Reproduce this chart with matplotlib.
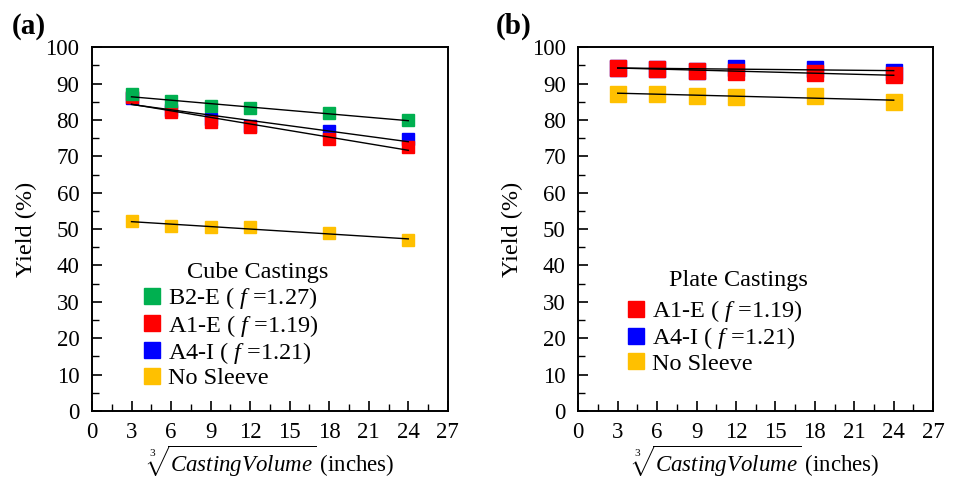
import numpy as np
import matplotlib
matplotlib.use("Agg")
import matplotlib.pyplot as plt
from matplotlib.ticker import MultipleLocator
from matplotlib.lines import Line2D

plt.rcParams['font.family'] = 'Liberation Serif'
plt.rcParams['mathtext.fontset'] = 'custom'
plt.rcParams['mathtext.rm'] = 'Liberation Serif'
plt.rcParams['mathtext.it'] = 'Liberation Serif:italic'

## DATA
size = [3, 6, 9, 12, 18, 24]            # cube root of casting volume (inches)

# cube castings
cube_b2e = [87.2, 85.3, 83.7, 83.2, 81.8, 80.1]
cube_a1e = [86.2, 82.1, 79.3, 78.2, 74.9, 72.7]
cube_a4i = [86.0, 82.6, 80.3, 78.3, 77.1, 74.9]
cube_none = [52.3, 50.8, 50.5, 50.5, 49.0, 47.0]

# plate castings
plate_a1e = [94.4, 94.1, 93.5, 93.3, 92.8, 92.4]
plate_a4i = [94.4, 94.1, 93.5, 94.4, 94.1, 93.3]
plate_none = [87.2, 87.2, 86.7, 86.4, 86.7, 85.0]

GREEN = '#00B050'
RED = '#FF0000'
BLUE = '#0000FF'
YELLOW = '#FFC000'

LBL_B2E = r'B2-E ( $f$ =1.27)'
LBL_A1E = r'A1-E ( $f$ =1.19)'
LBL_A4I = r'A4-I ( $f$ =1.21)'
LBL_NONE = 'No Sleeve'

FS_TICK = 16.5
FS = 17.5


def fit_line(ax, x, y):
    """Least squares trend line from first to last point."""
    k, b = np.polyfit(x, y, 1)
    xs = np.array([x[0], x[-1]])
    ax.plot(xs, k * xs + b, color='black', lw=1.0, zorder=5)


def style_axes(ax):
    ax.set_xlim(0, 27)
    ax.set_ylim(0, 100)
    ax.xaxis.set_major_locator(MultipleLocator(3))
    ax.xaxis.set_minor_locator(MultipleLocator(1.5))
    ax.yaxis.set_major_locator(MultipleLocator(10))
    ax.yaxis.set_minor_locator(MultipleLocator(5))
    ax.tick_params(which='both', direction='in', top=False, right=False, labelsize=FS_TICK)
    ax.tick_params(which='major', length=7, width=1.2, pad=9)
    ax.tick_params(axis='x', which='major', pad=8)
    ax.tick_params(which='minor', length=5, width=1.0)
    for s in ax.spines.values():
        s.set_linewidth(1.4)
    ax.set_ylabel('Yield (%)', fontsize=FS, labelpad=6)
    ax.set_xlabel(r'$\sqrt[3]{\mathit{CastingVolume}}$' + ' (inches)', fontsize=16.5, labelpad=0)


def handle(c, ms):
    return Line2D([], [], marker='s', ls='none', color=c, markersize=ms)


def add_legend(ax, handles, labels, title, x, y, tx, ty):
    ax.legend(handles, labels, loc='upper left', bbox_to_anchor=(x, y),
              frameon=False, fontsize=FS, handlelength=0.7, handletextpad=0.3,
              labelspacing=0.05, borderaxespad=0, borderpad=0)
    ax.text(tx, ty, title, transform=ax.transAxes, fontsize=FS,
            ha='center', va='center')


fig = plt.figure(figsize=(9.67, 4.8), dpi=100)
ax1 = fig.add_axes([0.0951, 0.1437, 0.368, 0.758])
ax2 = fig.add_axes([0.598, 0.1437, 0.367, 0.758])

# (a) cube castings
ms1 = 8
ax1.plot(size, cube_a4i, 's', color=BLUE, ms=ms1, zorder=3)
ax1.plot(size, cube_a1e, 's', color=RED, ms=ms1, zorder=3)
ax1.plot(size, cube_b2e, 's', color=GREEN, ms=ms1, zorder=3)
ax1.plot(size, cube_none, 's', color=YELLOW, ms=ms1, zorder=3)
for y in (cube_b2e, cube_a1e, cube_a4i, cube_none):
    fit_line(ax1, size, y)
style_axes(ax1)
add_legend(ax1, [handle(GREEN, 11.5), handle(RED, 11.5), handle(BLUE, 11.5), handle(YELLOW, 11.5)],
           [LBL_B2E, LBL_A1E, LBL_A4I, LBL_NONE], 'Cube Castings',
           0.145, 0.345, 0.465, 0.38)

# (b) plate castings
ms2 = 11
ax2.plot(size, plate_a4i, 's', color=BLUE, ms=ms2, zorder=3)
ax2.plot(size, plate_a1e, 's', color=RED, ms=ms2, zorder=3)
ax2.plot(size, plate_none, 's', color=YELLOW, ms=ms2, zorder=3)
for y in (plate_a1e, plate_a4i, plate_none):
    fit_line(ax2, size, y)
style_axes(ax2)
add_legend(ax2, [handle(RED, 11.5), handle(BLUE, 11.5), handle(YELLOW, 11.5)],
           [LBL_A1E, LBL_A4I, LBL_NONE], 'Plate Castings',
           0.14, 0.31, 0.45, 0.36)

fig.text(0.012, 0.93, '(a)', fontsize=21, fontweight='bold')
fig.text(0.513, 0.93, '(b)', fontsize=21, fontweight='bold')

fig.savefig('out.png', dpi=100)
